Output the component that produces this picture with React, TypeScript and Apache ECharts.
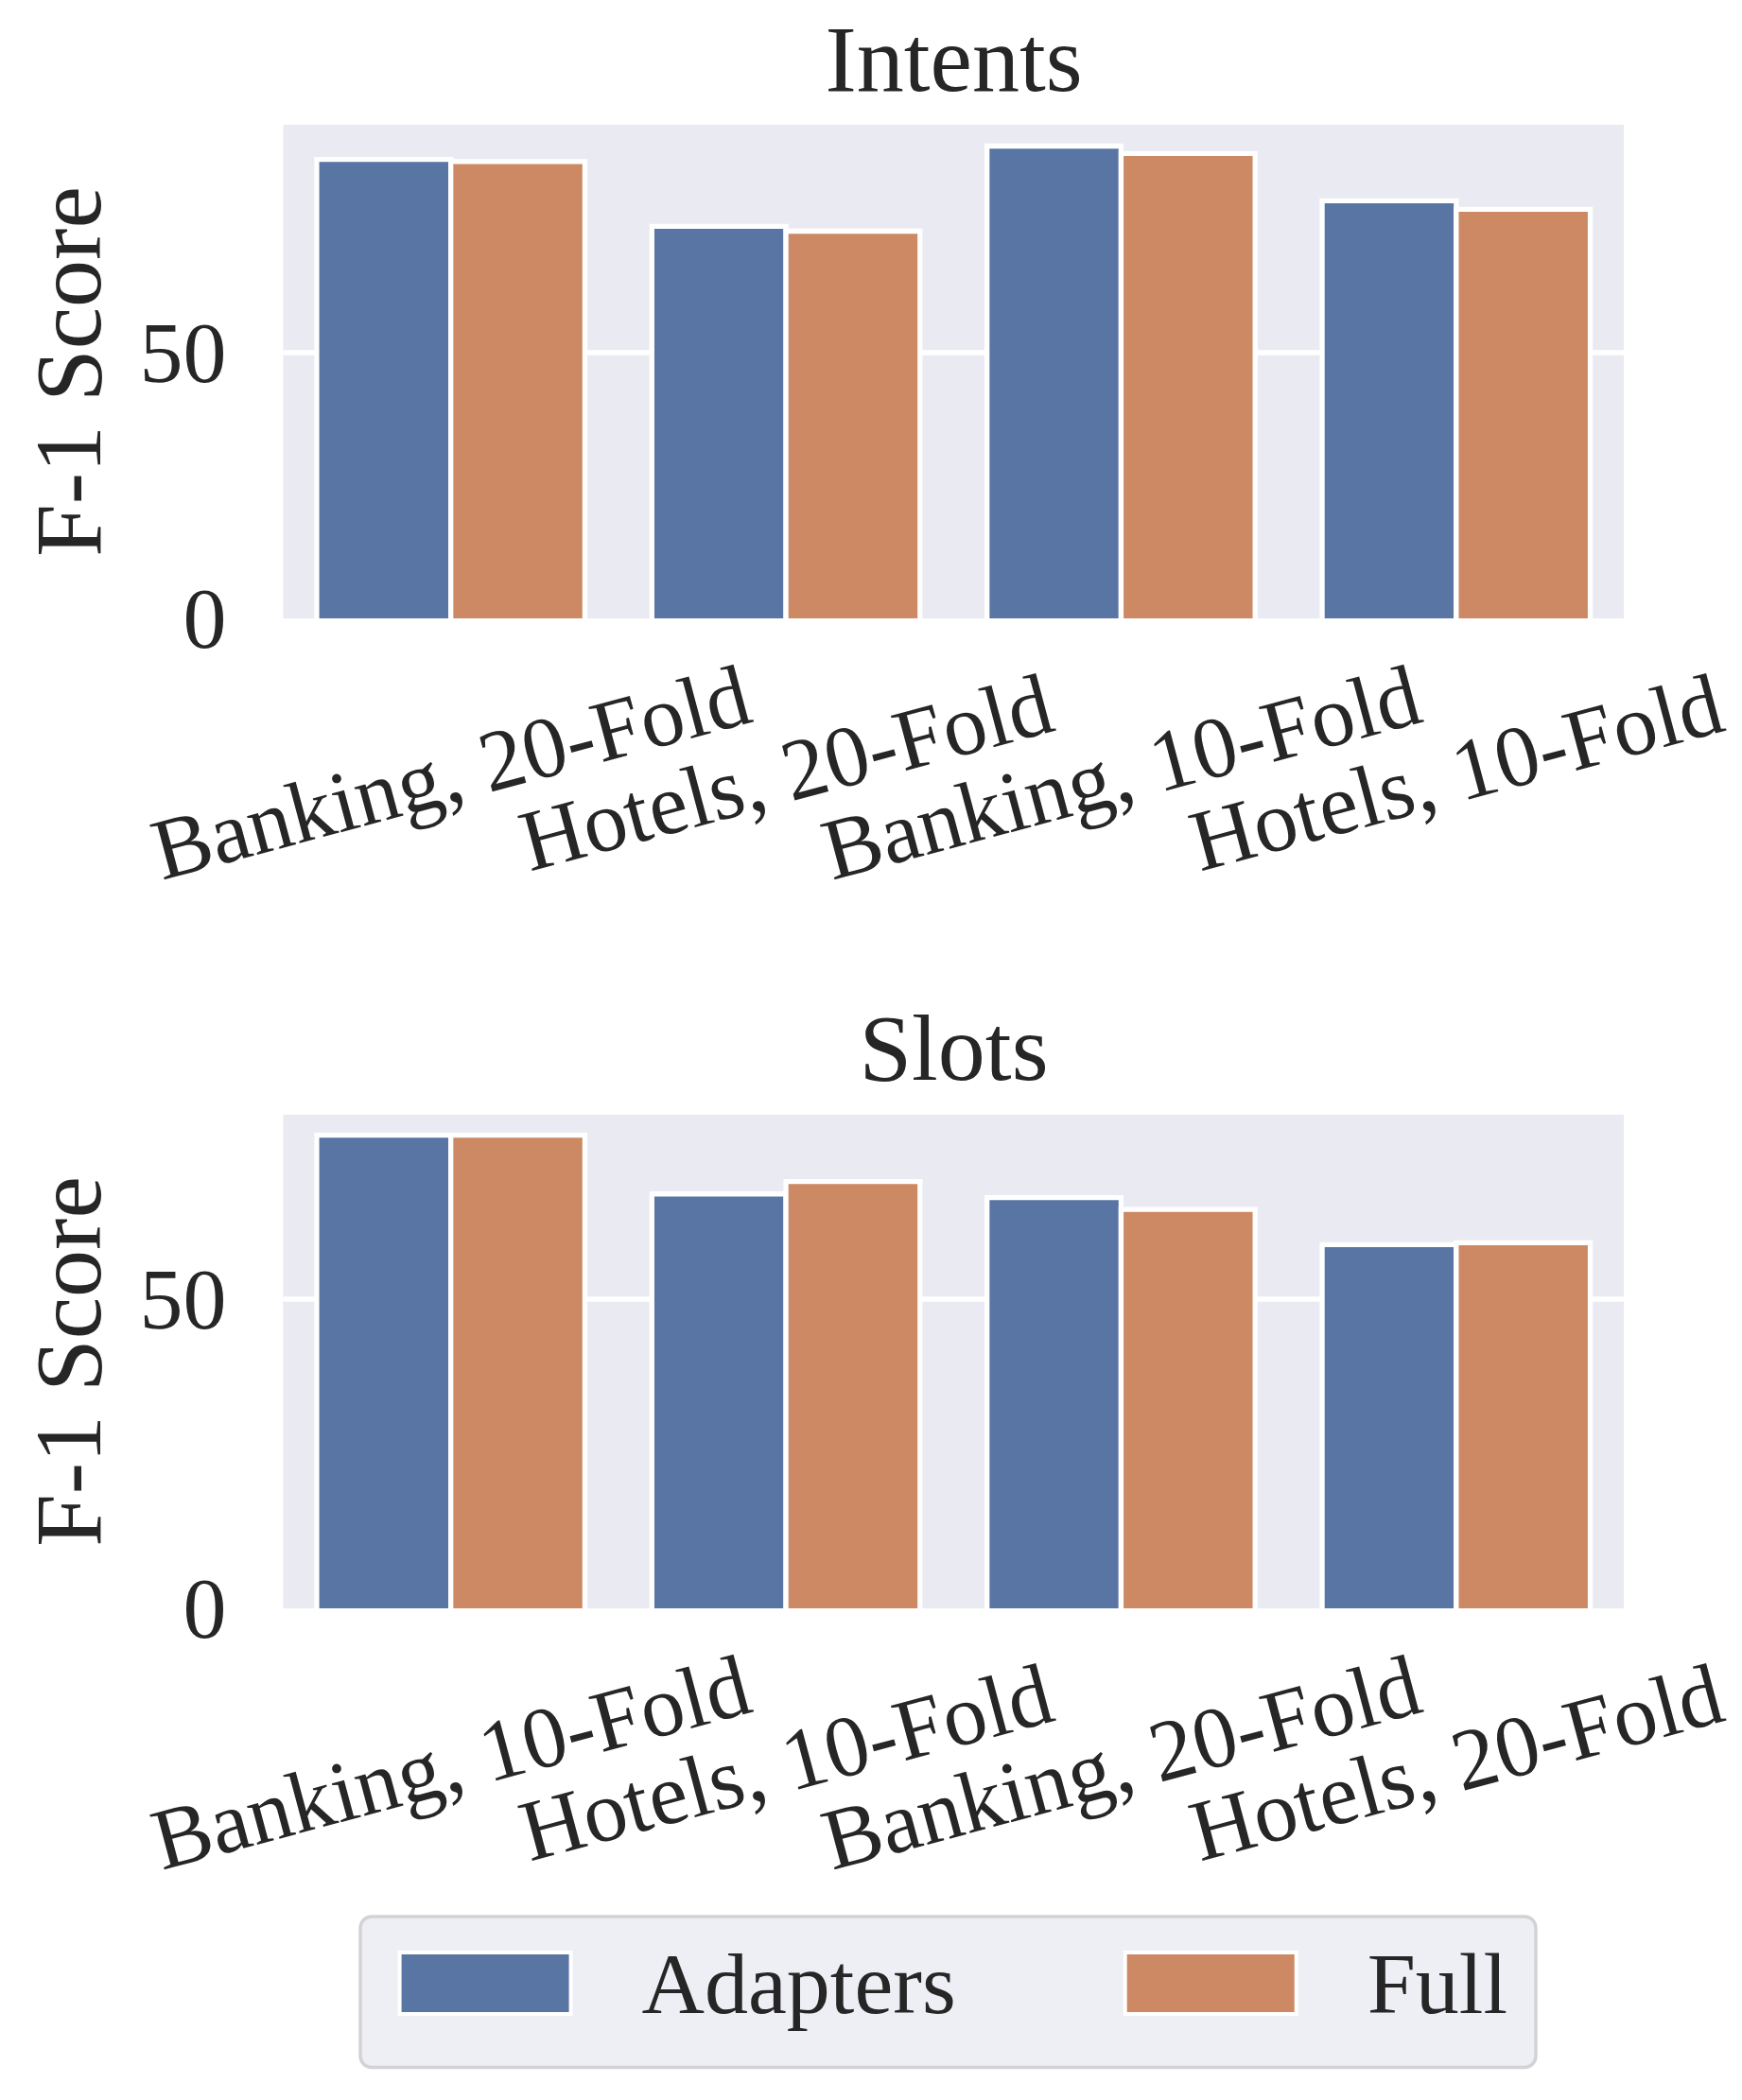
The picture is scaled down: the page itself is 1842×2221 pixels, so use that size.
import React, { useEffect, useRef } from "react";
import * as echarts from "echarts";

const intentsCategories = ["Banking, 20-Fold", "Hotels, 20-Fold", "Banking, 10-Fold", "Hotels, 10-Fold"];
const intentsAdapters = [86.3, 73.7, 88.8, 78.5];
const intentsFull = [85.9, 72.8, 87.4, 76.9];

const slotsCategories = ["Banking, 10-Fold", "Hotels, 10-Fold", "Banking, 20-Fold", "Hotels, 20-Fold"];
const slotsAdapters = [76.5, 67.0, 66.4, 58.8];
const slotsFull = [76.5, 69.0, 64.5, 59.1];

const yTickStep = 50;
const yMaxes = [92.8, 79.8];
const seriesNames = ["Adapters", "Full"];
const panelTitles = ["Intents", "Slots"];
const yAxisTitle = "F-1 Score";

export default function App() {
  const ref = useRef<HTMLDivElement>(null);

  useEffect(() => {
    document.body.style.margin = "0";
    const el = ref.current!;
    const chart = echarts.init(el, undefined, { renderer: "svg", width: 1842, height: 2221 });
    const font = "'Liberation Serif', 'Times New Roman', 'DejaVu Serif', serif";
    const ink = "#262626";
    const colors = ["#5975a4", "#cc8963"];
    const edge = 5.3;
    const panels = [
      { cats: intentsCategories, vals: [intentsAdapters, intentsFull], top: 132, titleTop: 12 },
      { cats: slotsCategories, vals: [slotsAdapters, slotsFull], top: 1179, titleTop: 1058 },
    ];

    const makeRender = (j: number) => (params: any, api: any) => {
      const cat = api.value(0);
      const val = api.value(1);
      const base = api.coord([cat, 0]);
      const topPt = api.coord([cat, val]);
      const bw = api.size([1, 0])[0];
      const w = bw * 0.4;
      const x = j === 0 ? base[0] - w : base[0];
      return {
        type: "rect",
        shape: { x, y: topPt[1], width: w, height: base[1] - topPt[1] + edge * 2 },
        style: { fill: colors[j], stroke: "#ffffff", lineWidth: edge },
      };
    };

    const option: any = {
      animation: false,
      backgroundColor: "#ffffff",
      title: panels.map((p, i) => ({
        text: panelTitles[i],
        left: 1008.5,
        top: p.titleTop,
        textAlign: "center",
        padding: 0,
        textStyle: { fontSize: 100, fontWeight: "normal", fontFamily: font, color: ink },
      })),
      grid: panels.map((p) => ({
        left: 299.5,
        width: 1417.5,
        top: p.top,
        height: 522,
        show: true,
        backgroundColor: "#eaeaf2",
        borderWidth: 0,
        containLabel: false,
        outerBoundsMode: "none",
      })),
      xAxis: panels.map((p, i) => ({
        type: "category",
        gridIndex: i,
        data: p.cats,
        axisLine: { show: false },
        axisTick: { show: false },
        splitLine: { show: false },
        axisLabel: {
          interval: 0,
          rotate: 15,
          align: "center",
          verticalAlign: "middle",
          margin: 163,
          fontSize: 92,
          fontFamily: font,
          color: ink,
        },
      })),
      yAxis: panels.map((p, i) => ({
        type: "value",
        gridIndex: i,
        min: 0,
        max: yMaxes[i],
        interval: yTickStep,
        name: yAxisTitle,
        nameLocation: "middle",
        nameRotate: 90,
        nameGap: 177,
        nameTextStyle: { fontSize: 100, fontFamily: font, color: ink },
        axisLine: { show: false },
        axisTick: { show: false },
        axisLabel: {
          margin: 60,
          fontSize: 92,
          fontFamily: font,
          color: ink,
          showMaxLabel: false,
        },
        splitLine: {
          show: true,
          showMinLine: false,
          showMaxLine: false,
          lineStyle: { color: "#ffffff", width: 5.5 },
        },
      })),
      legend: {
        data: seriesNames,
        left: 381,
        top: 2027,
        orient: "horizontal",
        icon: "rect",
        itemWidth: 181,
        itemHeight: 65,
        itemGap: 177,
        padding: [24.5, 30, 43, 39.6],
        backgroundColor: "#eeeef5",
        borderColor: "#d3d3d6",
        borderWidth: 3.5,
        borderRadius: 12,
        selectedMode: false,
        itemStyle: { borderColor: "#ffffff", borderWidth: 4 },
        textStyle: {
          fontSize: 92,
          lineHeight: 92,
          fontFamily: font,
          color: ink,
          padding: [0, 0, 0, 70],
        },
      },
      series: panels.flatMap((p, i) =>
        seriesNames.map((name, j) => ({
          type: "custom",
          name,
          xAxisIndex: i,
          yAxisIndex: i,
          clip: true,
          encode: { x: 0, y: 1 },
          data: p.vals[j].map((v, k) => [k, v]),
          itemStyle: { color: colors[j] },
          renderItem: makeRender(j),
        }))
      ),
    };

    chart.setOption(option);
    return () => chart.dispose();
  }, []);

  return <div ref={ref} style={{ width: 1842, height: 2221 }} />;
}
